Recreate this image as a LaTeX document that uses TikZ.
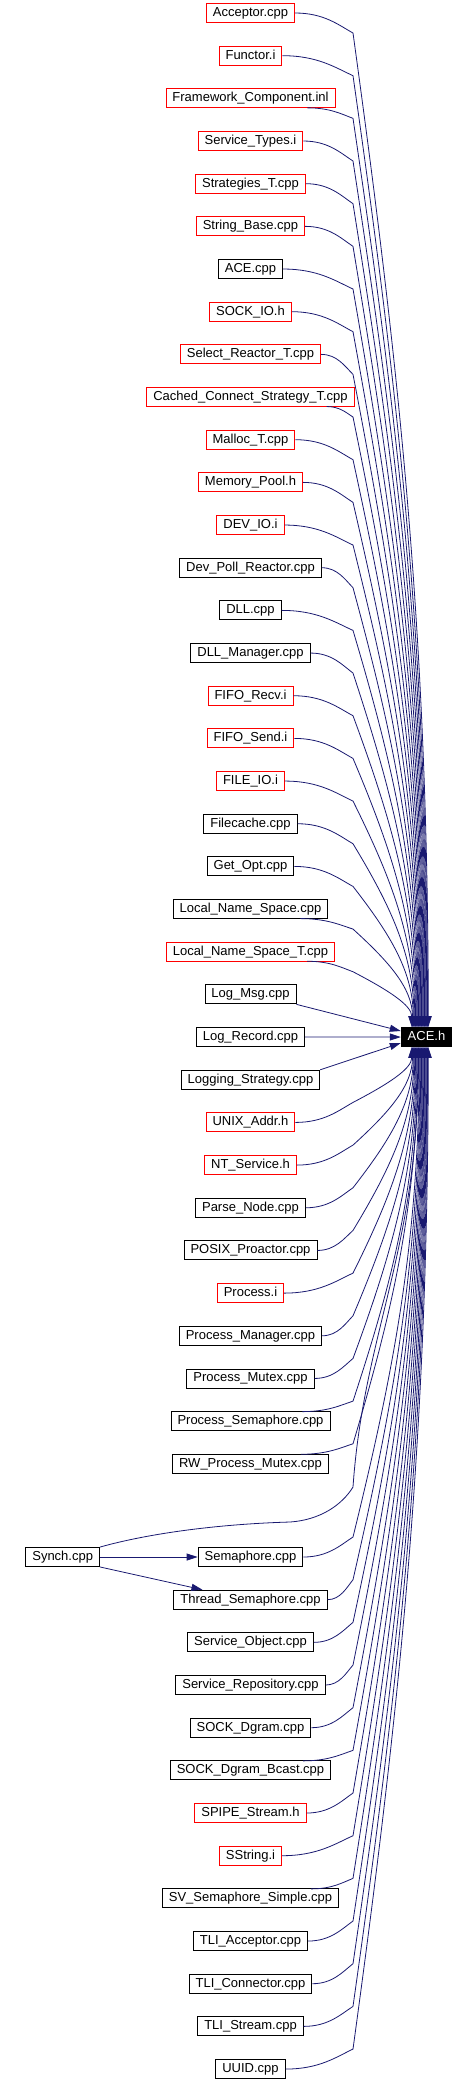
\documentclass[tikz,border=0pt]{standalone}
\usepackage{fontspec}
\setmainfont{Liberation Sans}
\usetikzlibrary{calc,arrows.meta}
\definecolor{edgec}{RGB}{25,25,112}
\begin{document}
\begin{tikzpicture}[x=1pt,y=-1pt,
  box/.style={draw, line width=0.9pt, font=\fontsize{13}{15}\selectfont,
    inner xsep=6.5pt, inner ysep=0pt, minimum height=19pt,
    text height=9.6pt, text depth=2.8pt},
  edge/.style={draw=edgec, line width=0.8pt, -{Triangle[length=11pt,width=7pt]}}]
\useasboundingbox (0,0) rectangle (476,2081);
\node[box, fill=black, text=white] (ace) at (426.5,1037) {ACE.h};
\node[box, draw=black] (synch) at (62.7,1557) {Synch.cpp};
\foreach \i/\lab/\col in {
 0/Acceptor.cpp/red, 1/Functor.i/red, 2/Framework\_Component.inl/red,
 3/Service\_Types.i/red, 4/Strategies\_T.cpp/red, 5/String\_Base.cpp/red,
 6/ACE.cpp/black, 7/SOCK\_IO.h/red, 8/Select\_Reactor\_T.cpp/red,
 9/Cached\_Connect\_Strategy\_T.cpp/red, 10/Malloc\_T.cpp/red, 11/Memory\_Pool.h/red,
 12/DEV\_IO.i/red, 13/Dev\_Poll\_Reactor.cpp/black, 14/DLL.cpp/black,
 15/DLL\_Manager.cpp/black, 16/FIFO\_Recv.i/red, 17/FIFO\_Send.i/red,
 18/FILE\_IO.i/red, 19/Filecache.cpp/black, 20/Get\_Opt.cpp/black,
 21/Local\_Name\_Space.cpp/black, 22/Local\_Name\_Space\_T.cpp/red, 23/Log\_Msg.cpp/black,
 24/Log\_Record.cpp/black, 25/Logging\_Strategy.cpp/black, 26/UNIX\_Addr.h/red,
 27/NT\_Service.h/red, 28/Parse\_Node.cpp/black, 29/POSIX\_Proactor.cpp/black,
 30/Process.i/red, 31/Process\_Manager.cpp/black, 32/Process\_Mutex.cpp/black,
 33/Process\_Semaphore.cpp/black, 34/RW\_Process\_Mutex.cpp/black,
 36/Semaphore.cpp/black, 37/Thread\_Semaphore.cpp/black, 38/Service\_Object.cpp/black,
 39/Service\_Repository.cpp/black, 40/SOCK\_Dgram.cpp/black, 41/SOCK\_Dgram\_Bcast.cpp/black,
 42/SPIPE\_Stream.h/red, 43/SString.i/red, 44/SV\_Semaphore\_Simple.cpp/black,
 45/TLI\_Acceptor.cpp/black, 46/TLI\_Connector.cpp/black, 47/TLI\_Stream.cpp/black,
 48/UUID.cpp/black} {
  \pgfmathsetmacro\yy{\i<35 ? 13+42.67*\i : 1557+42.67*(\i-36)}
  \node[box, draw=\col] (n\i) at (250.5,\yy) {\lab};
}
% fan edges into ACE.h
\foreach \i in {0,...,22,26,27,28,29,30,31,32,33,34,36,37,38,39,40,41,42,43,44,45,46,47,48} {
  \path (n\i.east); \pgfgetlastxy{\xr}{\yrr}
  \pgfmathsetmacro\yy{\i<35 ? 13+42.67*\i : 1557+42.67*(\i-36)}
  \pgfmathsetmacro\s{\i<23 ? 1 : -1}
  \pgfmathsetmacro\wide{\xr>328 ? 1 : 0}
  \pgfmathsetmacro\dx{\wide>0.5 ? -28 : 0}
  \pgfmathsetmacro\dy{\wide>0.5 ? 9.5*\s : 0}
  \pgfmathsetmacro\sx{\xr+\dx}
  \pgfmathsetmacro\sy{\yy+\dy}
  \pgfmathsetmacro\yc{\yy+20*\s}
  \pgfmathsetmacro\k{\i<23 ? 23-\i : \i-25}
  \pgfmathsetmacro\xe{411+0.75*\k}
  \pgfmathsetmacro\ey{\i<23 ? 1027.5 : 1046.5}
  \pgfmathsetmacro\off{\xe-426.5}
  \pgfmathsetmacro\eoff{\i<23 ? 0 : 0}
  \ifdim \s pt > 0pt
    \draw[edge] ($(n\i.east)+(\dx,\dy)$)
      .. controls ({\sx+0.5*(353-\sx)},\sy) and ({353-0.25*(353-\sx)},{\yc-0.4*(\yc-\sy)}) .. (353,\yc)
      .. controls ({353+0.6*(\xe-353)},{\yc+0.33*(\ey-\yc)}) and (\xe,{\ey-0.4*(\ey-\yc)}) .. ($(ace.north)+(\off,0)$);
  \else
    \draw[edge] ($(n\i.east)+(\dx,\dy)$)
      .. controls ({\sx+0.5*(353-\sx)},\sy) and ({353-0.25*(353-\sx)},{\yc-0.4*(\yc-\sy)}) .. (353,\yc)
      .. controls ({353+0.6*(\xe-353)},{\yc+0.33*(\ey-\yc)}) and (\xe,{\ey-0.4*(\ey-\yc)}) .. ($(ace.south)+(\off,0)$);
  \fi
}
% near rows
\draw[edge] (n23.south east) -- ($(ace.west)+(0,-6)$);
\draw[edge] (n24) -- (ace);
\draw[edge] (n25.north east) -- ($(ace.west)+(0,6)$);
% Synch edges
\draw[edge] (synch) -- (n36);
\draw[edge] (synch.south east) -- ($(n37.north west)+(29,0)$);
\draw[edge] (synch.north east) .. controls (150,1533) and (220,1524) .. (290,1522)
  .. controls (320,1520) and (342,1505) .. (353,1487)
  .. controls (364,1330) and (419,1250) .. ($(ace.south)+(-8,0)$);
\end{tikzpicture}
\end{document}
